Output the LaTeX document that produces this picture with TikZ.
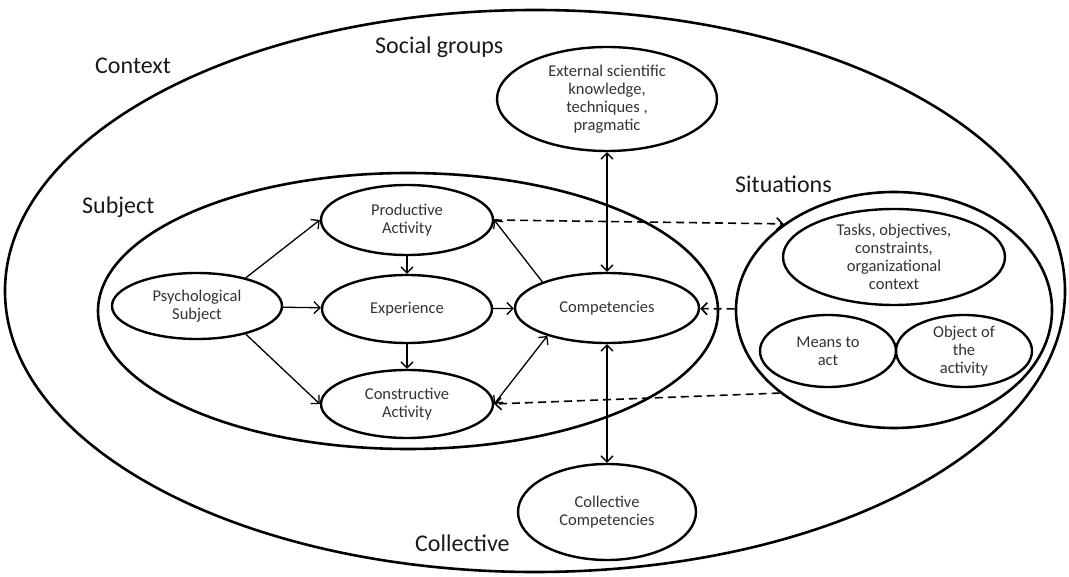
\documentclass[tikz,border=0pt]{standalone}
\usepackage{fontspec}
\setmainfont{Carlito}
\usepackage{tikz}
\usetikzlibrary{arrows.meta,shapes}

\begin{document}
\begin{tikzpicture}[x=1pt,y=-1pt,>={Straight Barb[length=6pt,width=12pt]}]
\tikzstyle{area} = [ellipse, draw, line width=2.6pt, inner sep=0pt];%
\tikzstyle{bubble} = [ellipse, draw, line width=2.4pt, inner sep=-2pt, align=center, text=black!80, font=\fontsize{16.5}{18}\selectfont];%
\tikzstyle{title} = [anchor=west, inner sep=0pt, text=black!90, font=\fontsize{24}{28}\selectfont];%
\tikzstyle{link} = [->, line width=1.3pt];%
\tikzstyle{twoway} = [<->, line width=1.3pt];%
\tikzstyle{hint} = [->, line width=1.6pt, dash pattern=on 8pt off 5pt];%

\useasboundingbox (0,0) rectangle (1069,577);

% the three areas
\node at (535,291) [area, minimum width=1060pt, minimum height=562pt] (context) {};
\node at (408,311) [area, minimum width=620pt, minimum height=276pt] (subject) {};
\node at (894,310) [area, minimum width=316pt, minimum height=236pt] (sit) {};

\node at (95,66)  [title] (lcontext) {Context};
\node at (375,47) [title] (lsocial) {Social groups};
\node at (82,207) [title] (lsubject) {Subject};
\node at (735,184) [title] (lsit) {Situations};
\node at (415,543) [title] (lcoll) {Collective};

% inner ellipses
\node at (607,99)  [bubble, minimum width=220pt, minimum height=104pt] (ext) {External scientific\\knowledge,\\techniques ,\\pragmatic};
\node at (197,306) [bubble, minimum width=170pt, minimum height=66pt] (psych) {Psychological\\Subject};
\node at (407,220) [bubble, minimum width=172pt, minimum height=70pt] (prod) {Productive\\Activity};
\node at (407,309) [bubble, minimum width=170pt, minimum height=68pt] (exper) {Experience};
\node at (407,404) [bubble, minimum width=172pt, minimum height=68pt] (cons) {Constructive\\Activity};
\node at (607,308) [bubble, minimum width=184pt, minimum height=70pt] (comp) {Competencies};
\node at (607,512) [bubble, minimum width=178pt, minimum height=96pt] (coll) {Collective\\Competencies};
\node at (894,257) [bubble, minimum width=222pt, minimum height=96pt] (tasks) {Tasks, objectives,\\constraints,\\organizational\\context};
\node at (828,351) [bubble, minimum width=136pt, minimum height=72pt] (means) {Means to\\act};
\node at (964,351) [bubble, minimum width=136pt, minimum height=72pt] (object) {Object of\\the\\activity};

\path (psych.30)  edge[link] (prod.west) ;
\path (psych)  edge[link] (exper) ;
\path (psych.-30)  edge[link] (cons.west) ;
\path (prod)  edge[link] (exper) ;
\path (exper)  edge[link] (cons) ;
\path (exper)  edge[link] (comp) ;
\path (comp.158)  edge[link] (prod.east) ;
\path (cons.east)  edge[twoway] (comp.205) ;
\path (ext)  edge[twoway] (comp) ;
\path (comp)  edge[twoway] (coll) ;
\path (prod.east)  edge[hint] (sit.142) ;
\path (sit)  edge[hint] (comp) ;
\path (sit.216)  edge[hint] (cons.east) ;

\end{tikzpicture}
\end{document}
